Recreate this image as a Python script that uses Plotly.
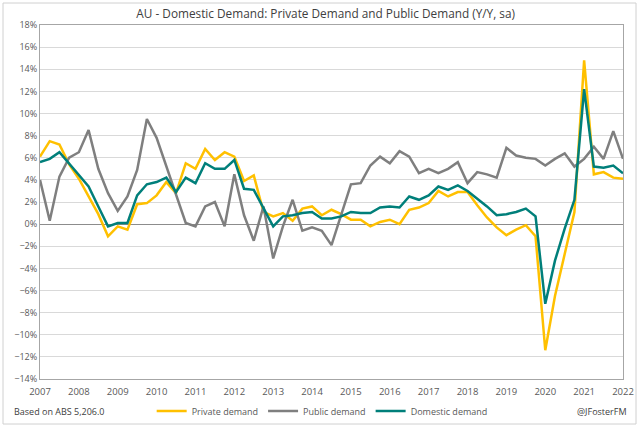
import plotly.graph_objects as go

start_year = 2007
year_labels = [str(y) for y in range(2007, 2023)]

private_demand = [6.1, 7.5, 7.2, 5.4, 4.1, 2.5, 0.9, -1.1, -0.2, -0.5,
                  1.8, 1.9, 2.6, 3.8, 2.8, 5.5, 5.0, 6.8, 5.8, 6.5,
                  6.1, 3.9, 4.4, 1.1, 0.7, 1.0, 0.3, 1.4, 1.6, 0.8,
                  1.3, 0.9, 0.4, 0.4, -0.2, 0.2, 0.4, 0.0, 1.3, 1.5,
                  1.9, 3.0, 2.5, 2.9, 2.9, 1.7, 0.6, -0.3, -1.0, -0.5,
                  -0.1, -1.1, -11.4, -6.5, -2.6, 1.1, 14.8, 4.5, 4.7, 4.2,
                  4.1]
public_demand = [4.0, 0.3, 4.3, 6.0, 6.5, 8.5, 5.0, 2.8, 1.2, 2.5,
                 4.9, 9.5, 7.8, 5.2, 2.8, 0.1, -0.2, 1.6, 2.0, -0.2,
                 4.5, 0.8, -1.5, 1.6, -3.1, -0.2, 2.2, -0.6, -0.3, -0.6,
                 -1.9, 0.8, 3.6, 3.7, 5.3, 6.1, 5.5, 6.6, 6.1, 4.6,
                 5.0, 4.6, 5.0, 5.6, 3.7, 4.7, 4.5, 4.2, 6.9, 6.2,
                 6.0, 5.9, 5.3, 5.9, 6.4, 5.2, 5.9, 7.0, 5.9, 8.4,
                 5.9]
domestic_demand = [5.6, 5.9, 6.5, 5.5, 4.4, 3.4, 1.6, -0.2, 0.1, 0.1,
                   2.6, 3.6, 3.8, 4.2, 2.9, 4.2, 3.7, 5.5, 5.0, 5.0,
                   5.8, 3.2, 3.1, 1.4, -0.2, 0.7, 0.8, 1.0, 1.1, 0.5,
                   0.5, 0.7, 1.1, 1.0, 1.0, 1.5, 1.6, 1.5, 2.5, 2.2,
                   2.6, 3.4, 3.1, 3.5, 3.0, 2.3, 1.6, 0.8, 0.9, 1.1,
                   1.4, 0.7, -7.2, -3.3, -0.4, 2.2, 12.2, 5.2, 5.1, 5.3,
                   4.6]

x_vals = [start_year + i / 4 for i in range(len(private_demand))]

FONT = "Open Sans"
TXT = "#595959"
FOOT_Y = 1 - 411 / 428

fig = go.Figure()
fig.add_trace(go.Scatter(x=x_vals, y=private_demand, name="Private demand",
                         mode="lines", line=dict(color="#FFC000", width=2.5)))
fig.add_trace(go.Scatter(x=x_vals, y=public_demand, name="Public demand",
                         mode="lines", line=dict(color="#7F7F7F", width=2.5)))
fig.add_trace(go.Scatter(x=x_vals, y=domestic_demand, name="Domestic demand",
                         mode="lines", line=dict(color="#007F7A", width=2.5)))

fig.update_layout(
    width=640, height=428,
    margin=dict(l=40, r=17, t=25, b=49, autoexpand=False),
    paper_bgcolor="white", plot_bgcolor="white",
    font=dict(family=FONT, size=9, color=TXT),
    title=dict(text="AU - Domestic Demand: Private Demand and Public Demand (Y/Y, sa)",
               x=0.49, xref="paper", xanchor="center",
               y=1 - 14 / 428, yref="container", yanchor="middle",
               font=dict(family=FONT, size=11.8, color="#404040")),
    showlegend=True,
    legend=dict(orientation="h", x=0.484, xanchor="center",
                yref="container", y=FOOT_Y, yanchor="middle",
                font=dict(family=FONT, size=9, color=TXT), itemwidth=30,
                bgcolor="rgba(0,0,0,0)"),
    xaxis=dict(range=[2007, 2022], tickvals=list(range(2007, 2023)),
               ticktext=year_labels, showgrid=False, zeroline=False,
               showline=True, linecolor="#A6A6A6", linewidth=1, mirror=True,
               ticks="", ticklabelstandoff=4, ticklabeloverflow="allow",
               automargin=False,
               tickfont=dict(size=9.5, color=TXT, family=FONT)),
    yaxis=dict(range=[-14, 18], dtick=2, tick0=0, ticksuffix="%",
               showgrid=True, gridcolor="#D9D9D9", gridwidth=1,
               zeroline=True, zerolinecolor="#8C8C8C", zerolinewidth=1,
               showline=True, linecolor="#A6A6A6", linewidth=1, mirror=True,
               ticks="", automargin=False,
               tickfont=dict(size=9, color=TXT, family=FONT)),
)

fig.add_annotation(text="Based on ABS 5,206.0", xref="paper", yref="paper",
                   x=(12 - 40) / 583, y=(379 - 411) / 354, xanchor="left", yanchor="middle",
                   showarrow=False, font=dict(family=FONT, size=9, color="#404040"))
fig.add_annotation(text="@JFosterFM", xref="paper", yref="paper",
                   x=(629 - 40) / 583, y=(379 - 411) / 354, xanchor="right", yanchor="middle",
                   showarrow=False, font=dict(family=FONT, size=9, color="#404040"))

fig.add_shape(type="rect", xref="paper", yref="paper",
              x0=(3 - 40) / 583, x1=(636 - 40) / 583,
              y0=(379 - 424) / 354, y1=(379 - 3) / 354,
              line=dict(color="#D0D0D0", width=1), fillcolor="rgba(0,0,0,0)", layer="below")

fig.write_html("out.html", config={"displayModeBar": False},
               post_script="document.body.style.margin='0px';document.body.style.overflow='hidden';")
